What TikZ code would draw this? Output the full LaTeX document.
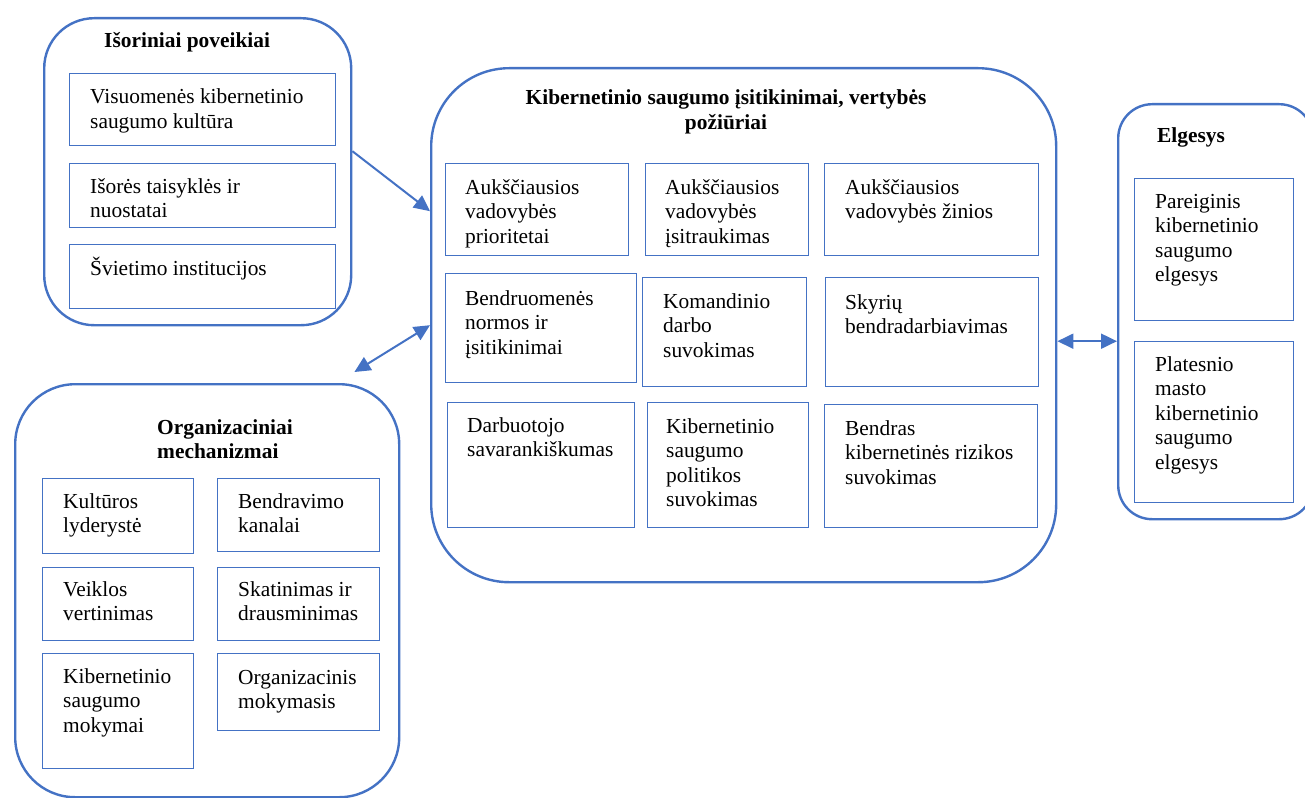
\documentclass[tikz,border=0pt]{standalone}
\usepackage{fontspec}
\setmainfont{Liberation Serif}
\usetikzlibrary{arrows.meta,calc}
\definecolor{frameblue}{HTML}{4472C4}

% item box from its top-left (#2,#3) to bottom-right (#4,#5)
\newcommand\itembox[5]{%
  \node[item, minimum width={#4pt-#2pt}, minimum height={#5pt-#3pt}] (#1) at (#2,#3) {};}
% rounded group frame
\newcommand\groupbox[6]{%
  \node[group=#6, minimum width={#4pt-#2pt}, minimum height={#5pt-#3pt}] (#1) at (#2,#3) {};}
% stacked lines whose baseline is the first line
\newcommand\leftlines[1]{\begin{tabular}[t]{@{}l@{}}#1\end{tabular}}
\newcommand\midlines[1]{\begin{tabular}[t]{@{}c@{}}#1\end{tabular}}

\begin{document}
\begin{tikzpicture}[x=1pt,y=-1pt,
  group/.style={draw=frameblue, line width=2.4pt, rounded corners=#1, anchor=north west, inner sep=0pt},
  item/.style={draw=frameblue, line width=1.3pt, anchor=north west, inner sep=0pt},
  txt/.style={anchor=base west, inner sep=0pt, font=\fontsize{21.4}{24.6}\selectfont},
  ttl/.style={txt, font=\fontsize{21.4}{24.6}\selectfont\bfseries},
  link/.style={draw=frameblue, line width=2pt, -{Triangle[length=16pt,width=15pt]}},
  link2/.style={draw=frameblue, line width=2pt, {Triangle[length=16pt,width=15pt]}-{Triangle[length=16pt,width=15pt]}}
]
\useasboundingbox (0,0) rectangle (1305,797);
\clip (0,0) rectangle (1305,797);

% ---- external influences
\groupbox{ext}{43}{17}{350}{324}{50pt}
\node[ttl] (extT) at (104,48) {Išoriniai poveikiai};
\itembox{e1}{69}{73}{335}{145}
\node[txt] (e1t) at (90,104) {\leftlines{Visuomenės kibernetinio\\saugumo kultūra}};
\itembox{e2}{69}{163}{335}{227}
\node[txt] (e2t) at (90,193) {\leftlines{Išorės taisyklės ir\\nuostatai}};
\itembox{e3}{69}{244}{335}{308}
\node[txt] (e3t) at (90,275) {Švietimo institucijos};

% ---- beliefs, values, attitudes
\groupbox{cyb}{430}{67}{1055}{581}{78pt}
\node[ttl, anchor=base] (cybT) at (726,105)
  {\midlines{Kibernetinio saugumo įsitikinimai, vertybės\\požiūriai}};
\itembox{c1}{445}{163}{628}{255}
\node[txt] (c1t) at (465,194) {\leftlines{Aukščiausios\\vadovybės\\prioritetai}};
\itembox{c2}{645}{163}{808}{255}
\node[txt] (c2t) at (665,194) {\leftlines{Aukščiausios\\vadovybės\\įsitraukimas}};
\itembox{c3}{824}{163}{1038}{255}
\node[txt] (c3t) at (845,194) {\leftlines{Aukščiausios\\vadovybės žinios}};
\itembox{c4}{445}{273}{636}{382}
\node[txt] (c4t) at (465,305) {\leftlines{Bendruomenės\\normos ir\\įsitikinimai}};
\itembox{c5}{642}{277}{806}{386}
\node[txt] (c5t) at (663,308) {\leftlines{Komandinio\\darbo\\suvokimas}};
\itembox{c6}{825}{277}{1038}{386}
\node[txt] (c6t) at (845,309) {\leftlines{Skyrių\\bendradarbiavimas}};
\itembox{c7}{447}{402}{634}{527}
\node[txt] (c7t) at (467,432) {\leftlines{Darbuotojo\\savarankiškumas}};
\itembox{c8}{647}{402}{808}{527}
\node[txt] (c8t) at (666,433) {\leftlines{Kibernetinio\\saugumo\\politikos\\suvokimas}};
\itembox{c9}{824}{404}{1037}{527}
\node[txt] (c9t) at (845,435) {\leftlines{Bendras\\kibernetinės rizikos\\suvokimas}};

% ---- organisational mechanisms
\groupbox{org}{14}{383}{398}{796}{60pt}
\node[ttl] (orgT) at (157,434) {\leftlines{Organizaciniai\\mechanizmai}};
\itembox{o1}{42}{478}{193}{553}
\node[txt] (o1t) at (63,508) {\leftlines{Kultūros\\lyderystė}};
\itembox{o2}{217}{478}{379}{551}
\node[txt] (o2t) at (238,508) {\leftlines{Bendravimo\\kanalai}};
\itembox{o3}{42}{567}{193}{640}
\node[txt] (o3t) at (63,596) {\leftlines{Veiklos\\vertinimas}};
\itembox{o4}{217}{567}{379}{640}
\node[txt] (o4t) at (238,596) {\leftlines{Skatinimas ir\\drausminimas}};
\itembox{o5}{42}{653}{193}{768}
\node[txt] (o5t) at (63,683) {\leftlines{Kibernetinio\\saugumo\\mokymai}};
\itembox{o6}{217}{653}{379}{730}
\node[txt] (o6t) at (238,684) {\leftlines{Organizacinis\\mokymasis}};

% ---- behaviour
\groupbox{beh}{1117}{103}{1312}{518}{34pt}
\node[ttl] (behT) at (1157,142) {Elgesys};
\itembox{b1}{1134}{178}{1293}{320}
\node[txt] (b1t) at (1155,208) {\leftlines{Pareiginis\\kibernetinio\\saugumo\\elgesys}};
\itembox{b2}{1134}{341}{1293}{502}
\node[txt] (b2t) at (1155,371) {\leftlines{Platesnio\\masto\\kibernetinio\\saugumo\\elgesys}};

% ---- connectors
\draw[link] ([yshift=20.5pt]ext.east) -- ([yshift=114pt]cyb.west);
\draw[link2] (cyb.west) -- ([xshift=-46pt,yshift=11pt]org.north east);
\draw[link2] ([yshift=-16pt]cyb.east) -- ([yshift=-16pt]cyb.east -| beh.west);
\end{tikzpicture}
\end{document}
